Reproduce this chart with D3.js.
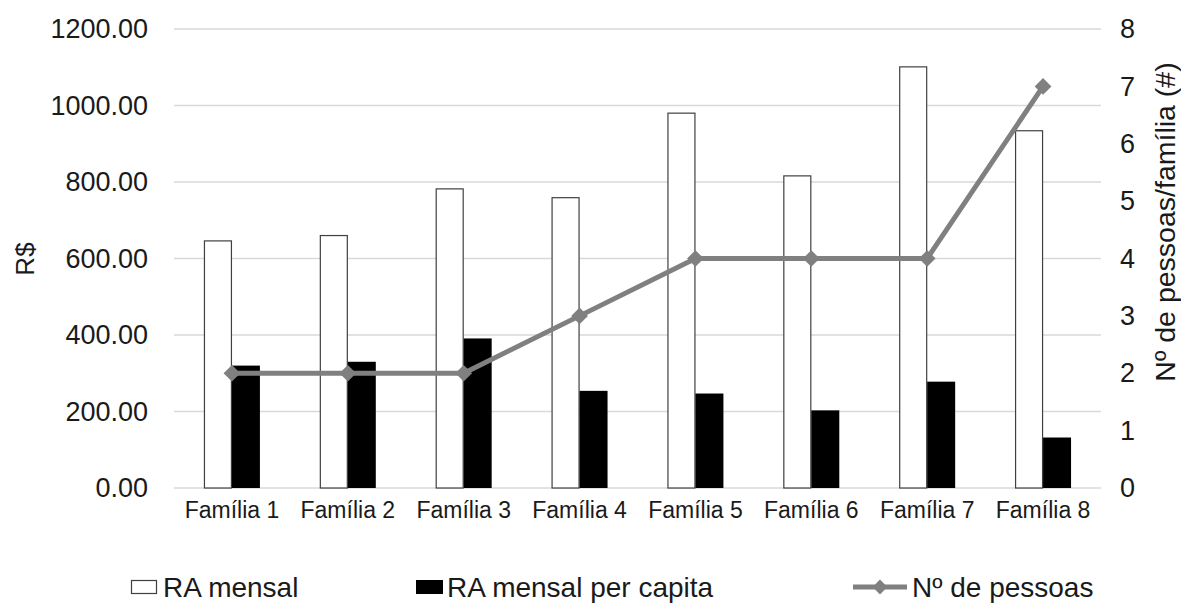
<!DOCTYPE html>
<html>
<head>
<meta charset="utf-8">
<script src="https://cdn.jsdelivr.net/npm/d3@7"></script>
<style>
  html, body { margin: 0; padding: 0; background: #ffffff; }
  svg { display: block; font-family: "Liberation Sans", Arial, sans-serif; }
</style>
</head>
<body>
<svg id="chart" width="1181" height="606"></svg>
<script>
const categories = ["Família 1", "Família 2", "Família 3", "Família 4", "Família 5", "Família 6", "Família 7", "Família 8"];
const raMensal = [646, 660, 782, 759, 980, 816, 1101, 934];
const raPerCapita = [320, 330, 391, 254, 247, 203, 278, 132];
const nPessoas = [2, 2, 2, 3, 4, 4, 4, 7];
const leftTicks = [0, 200, 400, 600, 800, 1000, 1200];
const rightTicks = [0, 1, 2, 3, 4, 5, 6, 7, 8];
const seriesNames = ["RA mensal", "RA mensal per capita", "Nº de pessoas"];
const leftTitle = "R$";
const rightTitle = "Nº de pessoas/família (#)";

const svg = d3.select("#chart");
const textColor = "#1a1a1a";
const gridColor = "#d9d9d9";
const lineColor = "#808080";

const plot = { left: 174, right: 1101, top: 29, bottom: 488 };

const x = d3.scaleBand().domain(categories).range([plot.left, plot.right]).paddingInner(0.517).paddingOuter(0.2585);
const x1 = d3.scaleBand().domain(["ra", "pc"]).range([0, x.bandwidth()]);
const xc = d3.scaleBand().domain(categories).range([plot.left, plot.right]);
const yL = d3.scaleLinear().domain([0, 1200]).range([plot.bottom, plot.top]);
const yR = d3.scaleLinear().domain([0, 8]).range([plot.bottom, plot.top]);

// gridlines
svg.append("g").selectAll("line").data(leftTicks).join("line")
  .attr("x1", plot.left).attr("x2", plot.right)
  .attr("y1", d => yL(d)).attr("y2", d => yL(d))
  .attr("stroke", gridColor).attr("stroke-width", 1.5);

// left axis labels
const gL = svg.append("g").attr("transform", `translate(${plot.left},0)`)
  .call(d3.axisLeft(yL).tickValues(leftTicks).tickFormat(d3.format(".2f")).tickSize(0).tickPadding(26));
gL.select(".domain").remove();
gL.selectAll("text").attr("font-size", 27).attr("fill", textColor).attr("font-family", "Liberation Sans, Arial, sans-serif");

// right axis labels
const gR = svg.append("g").attr("transform", `translate(${plot.right},0)`)
  .call(d3.axisRight(yR).tickValues(rightTicks).tickFormat(d3.format("d")).tickSize(0).tickPadding(19));
gR.select(".domain").remove();
gR.selectAll("text").attr("font-size", 27).attr("fill", textColor).attr("font-family", "Liberation Sans, Arial, sans-serif");

// x axis labels
const gX = svg.append("g").attr("transform", `translate(0,${plot.bottom})`)
  .call(d3.axisBottom(xc).tickSize(0).tickPadding(14));
gX.select(".domain").remove();
gX.selectAll("text").attr("font-size", 23).attr("fill", textColor).attr("font-family", "Liberation Sans, Arial, sans-serif");

// bars
const groups = svg.append("g").selectAll("g").data(categories).join("g")
  .attr("transform", d => `translate(${x(d)},0)`);
groups.append("rect")
  .attr("x", x1("ra") + 0.5).attr("width", x1.bandwidth() - 1)
  .attr("y", (d, i) => yL(raMensal[i])).attr("height", (d, i) => yL(0) - yL(raMensal[i]))
  .attr("fill", "#ffffff").attr("stroke", "#404040").attr("stroke-width", 1.2);
groups.append("rect")
  .attr("x", x1("pc")).attr("width", x1.bandwidth())
  .attr("y", (d, i) => yL(raPerCapita[i])).attr("height", (d, i) => yL(0) - yL(raPerCapita[i]))
  .attr("fill", "#000000");

// line
const cx = (i) => xc(categories[i]) + xc.bandwidth() / 2;
const line = d3.line().x((d, i) => cx(i)).y(d => yR(d));
svg.append("path").datum(nPessoas).attr("d", line)
  .attr("fill", "none").attr("stroke", lineColor).attr("stroke-width", 5).attr("stroke-linejoin", "round");
svg.append("g").selectAll("path").data(nPessoas).join("path")
  .attr("transform", (d, i) => `translate(${cx(i)},${yR(d)}) rotate(45)`)
  .attr("d", d3.symbol().type(d3.symbolSquare).size(140))
  .attr("fill", lineColor);

// axis titles
svg.append("text").attr("transform", "translate(34,259) rotate(-90)")
  .attr("text-anchor", "middle").attr("font-size", 26).attr("fill", textColor).text(leftTitle);
svg.append("text").attr("transform", "translate(1175,222) rotate(-90)")
  .attr("text-anchor", "middle").attr("font-size", 28.5).attr("fill", textColor).text(rightTitle);

// legend
const legY = 587;
const leg = svg.append("g");
leg.append("rect").attr("x", 131.5).attr("y", legY - 6.5).attr("width", 25).attr("height", 13)
  .attr("fill", "#fff").attr("stroke", "#404040").attr("stroke-width", 1.2);
leg.append("text").attr("x", 163).attr("y", legY).attr("dy", "0.35em").attr("font-size", 28).attr("fill", textColor).text(seriesNames[0]);
leg.append("rect").attr("x", 416).attr("y", legY - 7).attr("width", 27).attr("height", 14).attr("fill", "#000");
leg.append("text").attr("x", 447).attr("y", legY).attr("dy", "0.35em").attr("font-size", 28).attr("fill", textColor).text(seriesNames[1]);
leg.append("line").attr("x1", 853).attr("x2", 907).attr("y1", legY).attr("y2", legY)
  .attr("stroke", lineColor).attr("stroke-width", 5);
leg.append("path").attr("transform", `translate(880,${legY}) rotate(45)`)
  .attr("d", d3.symbol().type(d3.symbolSquare).size(110)).attr("fill", lineColor);
leg.append("text").attr("x", 912).attr("y", legY).attr("dy", "0.35em").attr("font-size", 28).attr("fill", textColor).text(seriesNames[2]);
</script>
</body>
</html>
